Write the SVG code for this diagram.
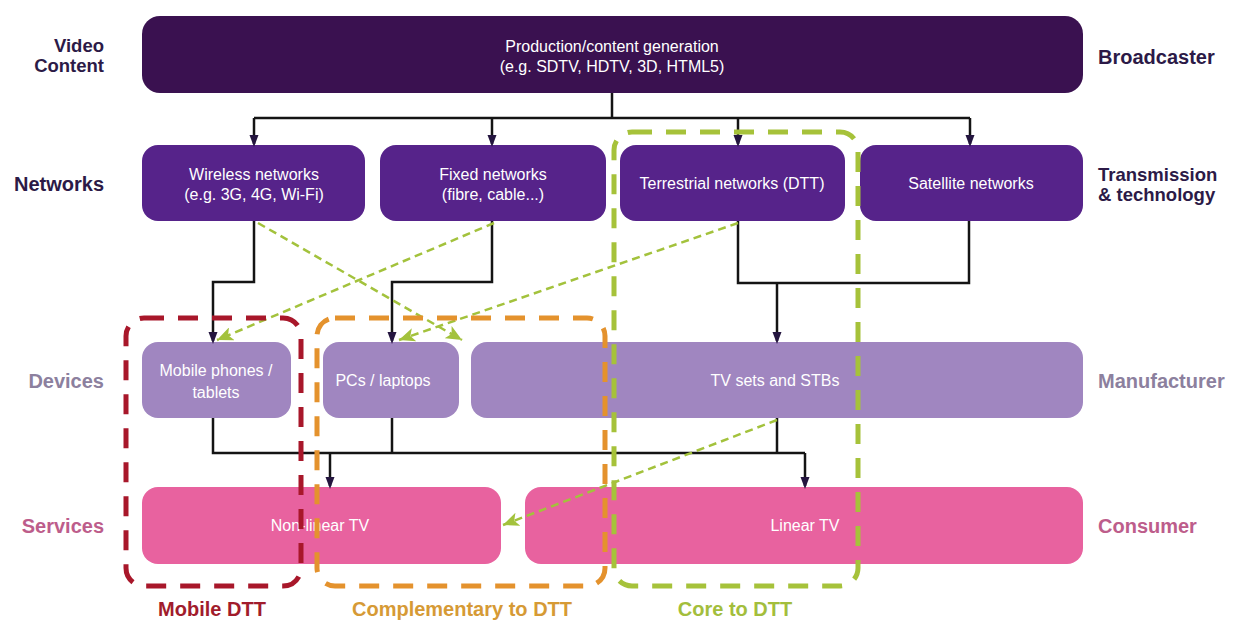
<svg xmlns="http://www.w3.org/2000/svg" width="1236" height="624" viewBox="0 0 1236 624">
  <style>
    .lbl { font-family: "Liberation Sans", Arial, sans-serif; font-weight: bold; font-size: 20px; }
    .pair { font-size: 18.5px; }
    .txt { font-family: "Liberation Sans", Arial, sans-serif; font-size: 16px; fill: #ffffff; text-anchor: middle; }
    .dark { fill: #2c1a47; }
    .dev { fill: #8c809e; }
    .srv { fill: #bd5d8b; }
    .n0 { fill: #3a1150; }
    .n1 { fill: #56238a; }
    .n2 { fill: #a086c0; }
    .n3 { fill: #e8629f; }
    .wire { fill: none; stroke: #141414; stroke-width: 2.5; }
    .alt { fill: none; stroke: #a3c23c; stroke-width: 2.5; stroke-dasharray: 8 5; }
    .grp { fill: none; stroke-width: 5; stroke-dasharray: 20 14; }
  </style>
  <defs>
    <marker id="arr" markerUnits="userSpaceOnUse" markerWidth="12" markerHeight="16" refX="12" refY="6" orient="auto" viewBox="0 0 16 12">
      <path d="M0,0 L16,6 L0,12 Z" fill="#24153f"/>
    </marker>
    <marker id="arrG" markerUnits="userSpaceOnUse" markerWidth="16" markerHeight="14" refX="16" refY="7" orient="auto" viewBox="0 0 16 14">
      <path d="M0,0 L16,7 L0,14 L4,7 Z" fill="#a3c23c"/>
    </marker>
  </defs>

  <!-- row labels, left -->
  <g id="row-labels-left" class="lbl" text-anchor="end">
    <text x="104" y="52" class="dark pair">Video</text>
    <text x="104" y="72" class="dark pair">Content</text>
    <text x="104" y="191" class="dark">Networks</text>
    <text x="104" y="388" class="dev">Devices</text>
    <text x="104" y="533" class="srv">Services</text>
  </g>

  <!-- row labels, right -->
  <g id="row-labels-right" class="lbl">
    <text x="1098" y="64" class="dark">Broadcaster</text>
    <text x="1098" y="181" class="dark pair">Transmission</text>
    <text x="1098" y="201" class="dark pair">&amp; technology</text>
    <text x="1098" y="388" class="dev">Manufacturer</text>
    <text x="1098" y="533" class="srv">Consumer</text>
  </g>

  <!-- content -->
  <g id="production">
    <rect x="142" y="16" width="941" height="77" rx="18" class="n0"/>
    <text x="612" y="52" class="txt">Production/content generation</text>
    <text x="612" y="72" class="txt">(e.g. SDTV, HDTV, 3D, HTML5)</text>
  </g>

  <!-- networks -->
  <g id="wireless">
    <rect x="142" y="145" width="223" height="76" rx="16" class="n1"/>
    <text x="254" y="180" class="txt">Wireless networks</text>
    <text x="254" y="200" class="txt">(e.g. 3G, 4G, Wi-Fi)</text>
  </g>
  <g id="fixed">
    <rect x="380" y="145" width="226" height="76" rx="16" class="n1"/>
    <text x="493" y="180" class="txt">Fixed networks</text>
    <text x="493" y="200" class="txt">(fibre, cable...)</text>
  </g>
  <g id="terrestrial">
    <rect x="620" y="145" width="225" height="76" rx="16" class="n1"/>
    <text x="732" y="189" class="txt">Terrestrial networks (DTT)</text>
  </g>
  <g id="satellite">
    <rect x="860" y="145" width="223" height="76" rx="16" class="n1"/>
    <text x="971" y="189" class="txt">Satellite networks</text>
  </g>

  <!-- devices -->
  <g id="mobile">
    <rect x="142" y="342" width="149" height="76" rx="16" class="n2"/>
    <text x="216" y="376" class="txt">Mobile phones /</text>
    <text x="216" y="398" class="txt">tablets</text>
  </g>
  <g id="pcs">
    <rect x="323" y="342" width="136" height="76" rx="16" class="n2"/>
    <text x="383" y="386" class="txt">PCs / laptops</text>
  </g>
  <g id="tvsets">
    <rect x="471" y="342" width="612" height="76" rx="16" class="n2"/>
    <text x="775" y="386" class="txt">TV sets and STBs</text>
  </g>

  <!-- services -->
  <g id="nonlinear">
    <rect x="142" y="487" width="359" height="77" rx="16" class="n3"/>
    <text x="320" y="531" class="txt">Non-linear TV</text>
  </g>
  <g id="linear">
    <rect x="525" y="487" width="558" height="77" rx="16" class="n3"/>
    <text x="805" y="531" class="txt">Linear TV</text>
  </g>

  <!-- connectors -->
  <g id="connectors">
    <path class="wire" d="M612,93 V118 M254,118 H970"/>
    <path class="wire" d="M254,118 V144" marker-end="url(#arr)"/>
    <path class="wire" d="M492,118 V144" marker-end="url(#arr)"/>
    <path class="wire" d="M738,118 V144" marker-end="url(#arr)"/>
    <path class="wire" d="M970,118 V144" marker-end="url(#arr)"/>

    <path class="wire" d="M254,221 V282 H213 V341" marker-end="url(#arr)"/>
    <path class="wire" d="M492,221 V282 H392 V341" marker-end="url(#arr)"/>
    <path class="wire" d="M738,221 V283 H969 V221"/>
    <path class="wire" d="M777,283 V341" marker-end="url(#arr)"/>

    <path class="wire" d="M213,418 V453 H805 M392,418 V453 M777,418 V453"/>
    <path class="wire" d="M330,453 V486" marker-end="url(#arr)"/>
    <path class="wire" d="M805,453 V486" marker-end="url(#arr)"/>

    <path class="alt" d="M258,223 L462,340" marker-end="url(#arrG)"/>
    <path class="alt" d="M494,223 L217,340" marker-end="url(#arrG)"/>
    <path class="alt" d="M738,223 L399,340" marker-end="url(#arrG)"/>
    <path class="alt" d="M777,420 L503,525" marker-end="url(#arrG)"/>
  </g>

  <!-- DTT groupings -->
  <g id="mobile-dtt">
    <rect x="126" y="318" width="175" height="268" rx="18" class="grp" stroke="#a8172a"/>
    <text x="212" y="616" class="lbl" fill="#a11c2c" text-anchor="middle">Mobile DTT</text>
  </g>
  <g id="complementary-dtt">
    <rect x="317" y="318" width="288" height="268" rx="18" class="grp" stroke="#e4922d"/>
    <text x="462" y="616" class="lbl" fill="#d69a35" text-anchor="middle">Complementary to DTT</text>
  </g>
  <g id="core-dtt">
    <rect x="614" y="132" width="244" height="454" rx="18" class="grp" stroke="#a6c23a"/>
    <text x="735" y="616" class="lbl" fill="#a3be3c" text-anchor="middle">Core to DTT</text>
  </g>
</svg>
